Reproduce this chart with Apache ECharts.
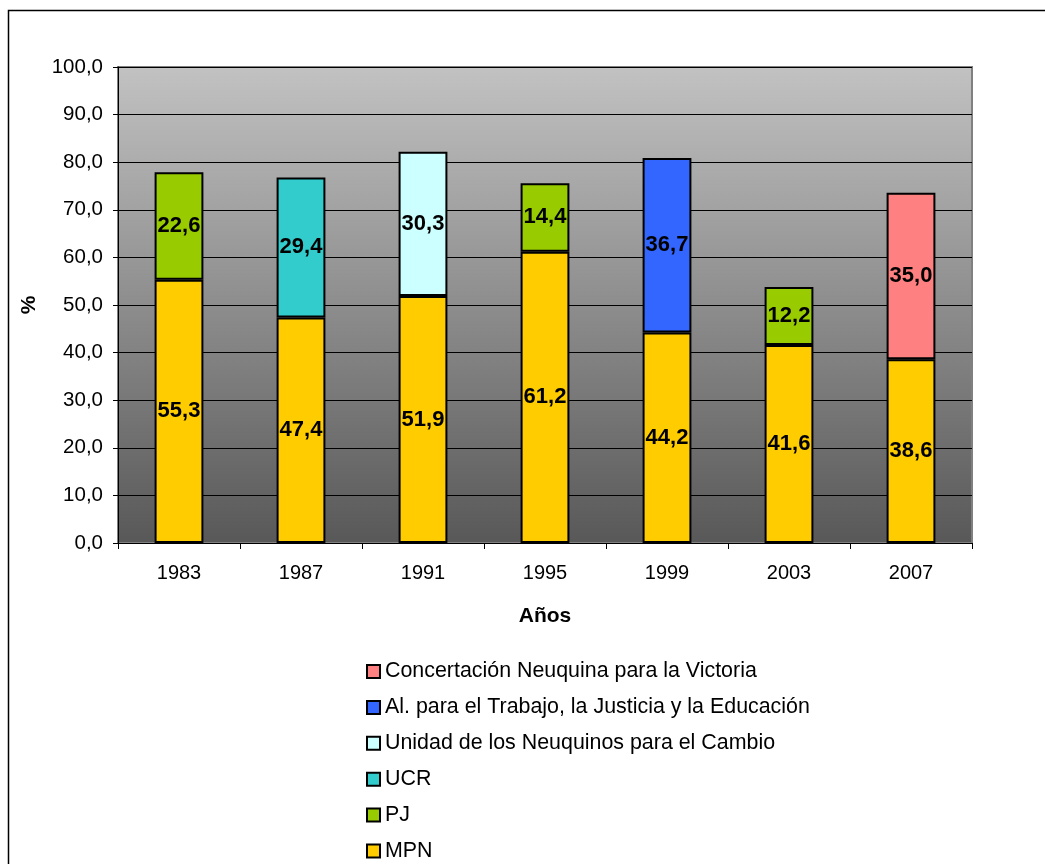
<!DOCTYPE html>
<html><head><meta charset="utf-8">
<script src="https://cdn.jsdelivr.net/npm/echarts@6/dist/echarts.min.js"></script>
<style>html,body{margin:0;padding:0;background:#fff}#c{width:1045px;height:864px}</style>
</head><body><div id="c"></div>
<script>
const years = ['1983','1987','1991','1995','1999','2003','2007'];
const MPN = [55.3, 47.4, 51.9, 61.2, 44.2, 41.6, 38.6];
const PJ = [22.6, null, null, 14.4, null, 12.2, null];
const UCR = [null, 29.4, null, null, null, null, null];
const UNIDAD = [null, null, 30.3, null, null, null, null];
const ALIANZA = [null, null, null, null, 36.7, null, null];
const CONCERT = [null, null, null, null, null, null, 35.0];
const seriesNames = ['MPN','PJ','UCR','Unidad de los Neuquinos para el Cambio','Al. para el Trabajo, la Justicia y la Educación','Concertación Neuquina para la Victoria'];
const seriesData = [MPN, PJ, UCR, UNIDAD, ALIANZA, CONCERT];
const colors = ['#FFCC00','#99CC00','#33CCCC','#CCFFFF','#3366FF','#FF8080'];
const FONT = '"Liberation Sans", Arial, sans-serif';
const chart = echarts.init(document.getElementById('c'));
const series = seriesNames.map((n,i)=>({
  name:n, type:'bar', stack:'total', barWidth:'40%',
  data: seriesData[i],
  itemStyle:{color:colors[i], borderColor:'#000', borderWidth:2},
  label:{show:true, position:'inside', color:'#000', fontWeight:'bold', fontSize:22, fontFamily:FONT,
    formatter:p=>p.value==null?'':Number(p.value).toFixed(1).replace('.',',')}
}));
chart.setOption({
  animation:false,
  backgroundColor:'#fff',
  graphic:[{type:'rect', shape:{x:8.5,y:10.5,width:1100,height:900}, style:{fill:'none', stroke:'#000', lineWidth:1.5}, silent:true}],
  grid:{left:118, top:67, right:73, bottom:321, show:true,
    backgroundColor:new echarts.graphic.LinearGradient(0,0,0,1,[{offset:0,color:'#c2c2c2'},{offset:1,color:'#585858'}]),
    borderColor:'#808080', borderWidth:2},
  legend:{orient:'vertical', left:366, top:661, padding:0, itemWidth:13, itemHeight:13, itemGap:14.9,
    data: seriesNames.slice().reverse(),
    textStyle:{fontSize:21.4, fontFamily:FONT, color:'#000', lineHeight:20},
    icon:'rect'},
  xAxis:{type:'category', data:years,
    name:'Años', nameLocation:'middle', nameGap:63,
    nameTextStyle:{fontSize:21, fontWeight:'bold', fontFamily:FONT, color:'#000'},
    axisLine:{lineStyle:{color:'#000', width:1}},
    axisTick:{show:true, length:6, lineStyle:{color:'#000'}},
    axisLabel:{fontSize:20, fontFamily:FONT, color:'#000', margin:20}},
  yAxis:{type:'value', min:0, max:100, interval:10,
    name:'%', nameLocation:'middle', nameGap:78, nameRotate:90,
    nameTextStyle:{fontSize:21, fontWeight:'bold', fontFamily:FONT, color:'#000'},
    axisLine:{show:true, lineStyle:{color:'#000', width:1}},
    axisTick:{show:true, length:5, lineStyle:{color:'#000'}},
    splitLine:{lineStyle:{color:'#000', width:1}},
    axisLabel:{fontSize:20.5, fontFamily:FONT, color:'#000', margin:15,
      formatter:v=>v.toFixed(1).replace('.',',')}},
  series: series
});
</script></body></html>
